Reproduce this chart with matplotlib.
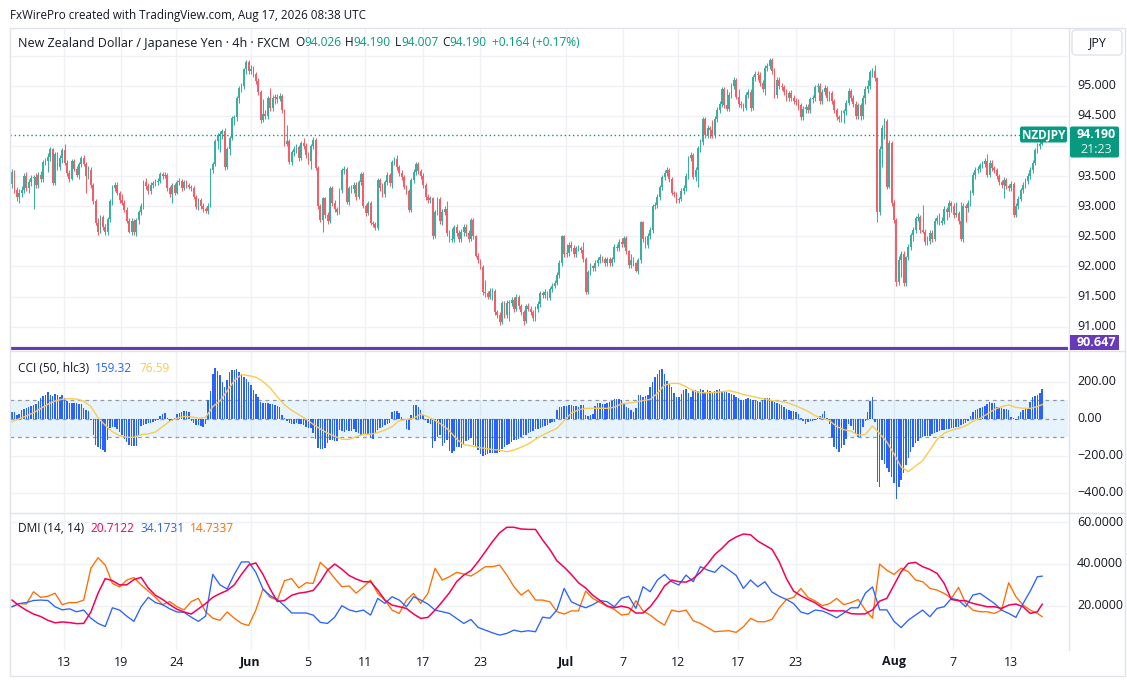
import numpy as np
import matplotlib
matplotlib.use("Agg")
import matplotlib.pyplot as plt
from matplotlib.patches import Rectangle, FancyBboxPatch

W, H = 1127, 681
plt.rcParams['font.family'] = ['Open Sans', 'DejaVu Sans']

# ---------------- data (4h bars, prices in 1/100 JPY) ----------------
OPEN_FIRST_X100 = 9337
CLOSE_X100 = [
    9357,9327,9315,9322,9327,9350,9330,9340,9347,9348,9335,9352,
    9345,9373,9375,9382,9395,9338,9387,9365,9380,9393,9372,9355,
    9345,9375,9362,9352,9370,9380,9370,9350,9360,9335,9308,9272,
    9258,9282,9265,9257,9278,9308,9330,9335,9322,9310,9305,9293,
    9275,9257,9275,9257,9277,9290,9300,9340,9333,9325,9335,9338,
    9340,9342,9353,9350,9352,9330,9320,9335,9322,9340,9342,9330,
    9340,9335,9332,9330,9315,9298,9310,9300,9295,9292,9300,9360,
    9370,9408,9418,9420,9425,9365,9395,9413,9446,9448,9480,9496,
    9500,9527,9540,9525,9527,9520,9508,9490,9443,9453,9450,9480,
    9463,9480,9482,9478,9483,9460,9403,9408,9373,9390,9395,9398,
    9380,9405,9400,9385,9375,9400,9410,9363,9300,9277,9313,9285,
    9275,9330,9305,9295,9290,9327,9360,9362,9307,9330,9328,9335,
    9315,9340,9353,9300,9288,9305,9272,9270,9263,9343,9330,9320,
    9340,9352,9338,9373,9378,9365,9355,9348,9332,9325,9293,9343,
    9357,9370,9358,9350,9335,9315,9310,9313,9250,9290,9312,9275,
    9290,9295,9255,9244,9245,9265,9255,9245,9258,9265,9255,9245,
    9277,9250,9218,9210,9199,9157,9156,9150,9160,9160,9125,9120,
    9108,9140,9120,9140,9140,9145,9130,9150,9135,9125,9110,9135,
    9130,9125,9115,9130,9138,9156,9152,9157,9148,9162,9168,9173,
    9185,9205,9250,9220,9222,9235,9230,9220,9230,9230,9228,9213,
    9157,9190,9200,9198,9205,9210,9215,9212,9205,9212,9205,9212,
    9233,9230,9240,9238,9247,9225,9202,9210,9205,9193,9210,9273,
    9245,9235,9250,9260,9300,9302,9315,9332,9348,9355,9360,9345,
    9322,9320,9310,9312,9325,9330,9350,9380,9385,9348,9360,9397,
    9407,9445,9418,9430,9427,9418,9445,9460,9470,9495,9468,9462,
    9485,9500,9510,9482,9470,9468,9463,9485,9490,9463,9514,9520,
    9518,9505,9495,9530,9533,9542,9525,9485,9510,9500,9498,9490,
    9480,9488,9480,9475,9473,9468,9448,9462,9465,9460,9478,9480,
    9498,9500,9475,9490,9497,9480,9488,9475,9460,9448,9445,9455,
    9458,9472,9492,9480,9470,9450,9468,9450,9480,9495,9500,9522,
    9525,9512,9290,9395,9430,9442,9332,9405,9305,9277,9175,9210,
    9220,9172,9215,9233,9252,9260,9280,9282,9260,9258,9240,9242,
    9255,9245,9275,9280,9272,9275,9295,9290,9305,9300,9285,9288,
    9275,9245,9300,9297,9305,9322,9352,9360,9362,9368,9370,9375,
    9352,9372,9363,9360,9350,9340,9335,9343,9333,9330,9337,9285,
    9300,9312,9327,9335,9342,9350,9360,9372,9393,9400,9403,9419,
]
HIGH_X100 = [
    9362,9360,9332,9328,9333,9355,9356,9345,9352,9352,9355,9356,
    9358,9377,9380,9388,9398,9397,9390,9390,9385,9397,9403,9376,
    9360,9378,9378,9366,9373,9383,9385,9373,9366,9365,9338,9312,
    9280,9285,9286,9270,9282,9312,9335,9340,9340,9326,9320,9310,
    9298,9280,9280,9278,9280,9294,9305,9343,9346,9338,9340,9342,
    9345,9347,9357,9356,9356,9355,9333,9338,9338,9344,9346,9345,
    9344,9343,9338,9335,9333,9318,9314,9313,9305,9298,9305,9363,
    9374,9412,9422,9425,9428,9430,9398,9416,9450,9452,9483,9500,
    9505,9530,9543,9542,9535,9532,9523,9512,9493,9478,9460,9483,
    9497,9484,9486,9486,9488,9486,9462,9435,9411,9394,9400,9403,
    9402,9408,9414,9405,9390,9404,9415,9413,9366,9304,9316,9316,
    9290,9333,9333,9310,9298,9330,9364,9367,9365,9333,9336,9340,
    9340,9344,9357,9356,9303,9308,9308,9276,9273,9346,9346,9338,
    9344,9356,9355,9376,9382,9385,9368,9360,9352,9336,9328,9346,
    9361,9373,9374,9362,9355,9338,9320,9317,9316,9294,9315,9316,
    9295,9300,9308,9260,9263,9268,9270,9260,9262,9270,9270,9260,
    9280,9280,9253,9222,9213,9202,9178,9160,9164,9165,9163,9128,
    9124,9143,9143,9144,9145,9150,9150,9155,9153,9138,9128,9138,
    9140,9135,9128,9134,9142,9160,9160,9162,9160,9166,9172,9178,
    9190,9210,9253,9252,9238,9240,9242,9235,9234,9236,9234,9240,
    9216,9194,9205,9203,9210,9215,9220,9218,9216,9216,9216,9216,
    9237,9238,9245,9247,9250,9250,9228,9220,9215,9208,9214,9276,
    9276,9250,9255,9265,9304,9307,9320,9336,9352,9360,9365,9364,
    9348,9326,9324,9316,9330,9335,9355,9384,9390,9388,9365,9400,
    9412,9448,9448,9435,9433,9443,9449,9464,9475,9498,9498,9494,
    9490,9505,9515,9513,9495,9475,9472,9490,9495,9495,9517,9525,
    9525,9522,9510,9534,9538,9546,9546,9530,9515,9514,9505,9502,
    9494,9492,9493,9485,9480,9478,9472,9466,9470,9470,9482,9485,
    9502,9505,9504,9495,9502,9500,9492,9492,9478,9463,9452,9460,
    9462,9476,9496,9495,9485,9474,9472,9472,9485,9500,9510,9526,
    9530,9535,9515,9400,9435,9446,9445,9410,9408,9310,9280,9218,
    9225,9225,9218,9237,9256,9265,9284,9288,9285,9302,9262,9250,
    9260,9260,9280,9285,9288,9282,9300,9298,9310,9308,9305,9307,
    9292,9307,9305,9303,9310,9327,9356,9365,9367,9372,9375,9380,
    9387,9377,9376,9367,9364,9354,9344,9348,9347,9337,9342,9340,
    9305,9317,9331,9340,9347,9355,9365,9377,9397,9405,9408,9419,
]
LOW_X100 = [
    9330,9322,9308,9305,9315,9322,9325,9322,9333,9295,9330,9330,
    9340,9340,9368,9357,9375,9335,9335,9360,9360,9372,9368,9350,
    9340,9343,9358,9348,9345,9365,9366,9322,9345,9330,9303,9268,
    9253,9255,9260,9253,9252,9273,9302,9325,9318,9305,9302,9290,
    9272,9255,9252,9253,9250,9270,9285,9295,9328,9320,9320,9330,
    9334,9336,9338,9345,9346,9326,9315,9305,9318,9320,9335,9326,
    9327,9331,9328,9326,9312,9295,9293,9296,9290,9288,9287,9298,
    9355,9366,9395,9390,9412,9360,9362,9385,9410,9435,9442,9472,
    9490,9495,9520,9520,9520,9515,9503,9485,9438,9440,9445,9445,
    9458,9458,9470,9472,9474,9455,9400,9400,9370,9368,9384,9388,
    9375,9376,9395,9380,9370,9362,9395,9360,9296,9273,9257,9280,
    9270,9272,9300,9290,9285,9287,9322,9354,9303,9302,9322,9322,
    9310,9312,9335,9297,9283,9285,9268,9265,9260,9260,9325,9315,
    9316,9335,9333,9330,9368,9360,9350,9343,9328,9320,9290,9290,
    9338,9352,9353,9345,9330,9310,9305,9305,9246,9248,9285,9270,
    9268,9285,9250,9240,9240,9240,9250,9240,9241,9250,9250,9240,
    9242,9245,9215,9205,9195,9153,9150,9146,9146,9144,9120,9115,
    9103,9105,9115,9115,9110,9135,9125,9126,9130,9120,9102,9106,
    9126,9120,9110,9110,9125,9133,9147,9148,9144,9145,9158,9164,
    9170,9180,9200,9215,9216,9218,9225,9215,9216,9225,9222,9208,
    9155,9155,9185,9192,9193,9200,9205,9207,9200,9200,9200,9200,
    9207,9225,9225,9233,9232,9220,9198,9198,9200,9190,9188,9205,
    9240,9230,9230,9245,9255,9295,9297,9310,9327,9343,9350,9340,
    9318,9315,9305,9305,9308,9320,9325,9345,9375,9345,9342,9332,
    9390,9402,9413,9414,9413,9414,9414,9440,9455,9465,9463,9458,
    9458,9480,9495,9478,9465,9463,9458,9460,9480,9458,9460,9508,
    9510,9500,9490,9485,9525,9528,9520,9480,9480,9495,9493,9485,
    9475,9475,9475,9470,9468,9460,9443,9443,9455,9455,9455,9472,
    9475,9490,9470,9470,9485,9475,9475,9470,9455,9443,9440,9440,
    9438,9452,9468,9475,9465,9445,9445,9443,9445,9470,9488,9495,
    9515,9508,9273,9285,9365,9412,9328,9330,9300,9272,9167,9170,
    9182,9167,9168,9210,9228,9243,9255,9275,9255,9255,9235,9236,
    9238,9240,9242,9270,9268,9268,9270,9277,9282,9290,9280,9282,
    9270,9243,9240,9273,9290,9300,9318,9345,9355,9356,9363,9365,
    9348,9348,9358,9355,9345,9335,9330,9313,9328,9325,9326,9282,
    9282,9296,9308,9322,9330,9337,9345,9355,9368,9388,9395,9401,
]
# CCI (50, hlc3), one value per bar
CCI = [
    38,35,22,25,45,50,58,62,66,72,80,95,
    112,122,128,145,130,122,133,128,118,125,110,98,
    85,86,84,83,80,78,60,48,40,-8,-90,-140,
    -150,-165,-170,-178,-115,-50,-42,-45,-58,-72,-90,-110,
    -128,-142,-147,-145,-147,-90,-40,-32,-26,-23,-21,-17,
    -14,-5,15,28,32,5,-10,-14,5,25,32,38,
    40,41,38,-15,-25,-32,-36,-40,-47,-30,100,150,
    240,271,255,235,200,170,210,250,260,262,266,250,
    235,225,212,195,180,155,135,115,92,85,83,86,
    80,78,74,70,62,20,5,-10,-25,-28,-27,-25,
    -28,-30,-34,-42,-48,-52,-75,-110,-160,-165,-163,-160,
    -130,-115,-112,-122,-120,-62,-66,-70,-62,-64,-65,-57,
    -70,-78,-88,-84,-86,-88,-105,-110,-78,-60,-52,-46,
    -36,-30,-24,35,40,43,30,8,-8,-55,-60,20,
    72,75,62,45,20,-7,-22,-30,-160,-120,-100,-88,
    -148,-130,-115,-175,-185,-175,-150,-155,-158,-135,-122,-112,
    -106,-140,-155,-168,-192,-200,-197,-190,-183,-187,-185,-182,
    -178,-165,-152,-142,-135,-126,-115,-112,-108,-97,-90,-86,
    -79,-74,-68,-57,-54,-50,-47,-38,-32,-25,-20,-16,
    47,62,65,67,68,72,74,70,67,65,72,74,
    20,14,18,25,70,83,82,79,80,83,88,95,
    104,108,105,100,80,65,56,45,38,56,130,128,
    118,122,127,170,195,225,240,260,269,240,205,185,
    172,140,118,118,135,155,158,140,118,152,154,150,
    158,152,145,153,150,145,150,155,158,150,145,145,
    138,133,127,118,112,100,100,105,109,106,103,100,
    95,92,100,110,113,109,100,92,83,78,72,65,
    52,46,43,40,36,27,5,-10,-28,-20,-15,-12,
    -5,2,15,28,43,5,-30,-105,-150,-165,-178,-160,
    -140,-110,-30,-40,-62,-80,-97,-97,-45,-10,38,95,
    115,-20,-340,-370,-223,-245,-265,-285,-315,-345,-434,-370,
    -330,-290,-250,-210,-180,-150,-130,-118,-105,-98,-95,-95,
    -95,-85,-78,-70,-66,-62,-60,-57,-54,-52,-48,-47,
    -46,-36,-28,-24,-10,15,38,46,52,56,62,70,
    79,88,86,83,62,56,56,52,50,47,10,2,
    -7,15,38,47,52,60,90,118,122,128,140,159.32,
]
# CCI moving average, read every 3rd bar, last value at the final bar
CCI_MA = [
    -16,0,15,32,55,78,95,105,108,106,95,65,
    5,-35,-70,-92,-100,-100,-86,-82,-72,-42,-14,3,
    12,10,3,7,65,95,150,205,238,232,224,200,
    166,118,75,45,22,-2,-30,-55,-78,-95,-110,-112,
    -97,-84,-84,-75,-61,-43,-11,-4,2,25,11,-10,
    -33,-65,-110,-140,-146,-154,-160,-166,-169,-178,-169,-154,
    -136,-111,-88,-70,-52,-10,30,48,56,56,56,56,
    62,80,84,90,98,104,136,181,190,190,172,151,
    140,140,141,145,151,142,130,122,113,106,97,94,
    88,74,58,40,16,3,-10,-42,-59,-67,-88,-85,
    -39,-80,-125,-190,-260,-285,-255,-226,-170,-112,-78,-62,
    -52,-38,-15,2,25,50,65,74,61,56,56,65,
    76.59,
]
# DMI (14, 14), read every 3rd bar, last value at the final bar
ADX = [
    22.7,20,17.8,16,14.8,13,11.8,12.2,11.9,11.4,11.5,17,
    26,33,32,30,30,32.5,33.6,28.5,25,23,20.5,18.3,
    17,16,18.5,21,24,25.8,27.3,30,35,39.5,40.5,35,
    28,22,22.5,25,26,26.5,27.3,31.5,37,40,37.5,34.5,
    32.8,31.5,31.5,27.5,22.7,20.3,19.5,18.7,16,13.9,14.4,17.9,
    21.9,26.2,31.5,34.7,36.8,41.1,45.9,50.7,55,57.6,57.6,56.8,
    56.6,56.6,51.5,47,41.5,38.5,35,31,28.5,25,22.5,19.8,
    19,19.8,19,16.5,16.5,19.5,24,29.5,32.3,31.5,31.3,33,
    36,40,44.5,47.5,51,53,54.4,54,51,49,47,41,
    33,27,24.8,23,21.4,19,17.6,17.5,17.5,16.2,16,16.1,
    18,22.2,23.5,29.9,36.3,40.3,40.8,38.7,37.4,35.5,30.7,23,
    22.4,22.4,21.1,20.3,19.5,19.5,18.7,20.3,20.8,19.5,16.3,17.1,
    20.7122,
]
PLUS_DI = [
    19.5,21,21.5,22.5,22.7,22.5,19.5,18,18.5,17.1,17.9,14,
    11.5,10,19,17.9,15,12.5,19.5,24,21.5,20.5,18.5,17,
    16.8,14.5,12.5,15,35,30,28,35,41,41,36,28,
    24.8,23,20,16.5,16.5,16.5,15.5,12,11.5,14.5,20,18,
    17.1,17.9,15.5,23.5,21.1,24.3,22.7,19.5,24.3,22.7,20.8,17.9,
    17.1,16.3,13.9,11.5,13.4,9.6,8.3,7,5.9,6.7,8.3,7.5,
    8,7.5,14.5,14,18,28.3,21.9,20.3,19,20.5,22.5,21.9,
    19.5,23.5,24.5,18.7,29.1,26.7,32.3,35,31.5,29.9,34.7,31.5,
    38.7,37.1,36,39.5,37,34.5,28.3,32.3,29.1,31.5,26.5,24.5,
    23,21,17,16,17.9,17.5,16,14.2,16.5,19,19,26,
    29,18,18,12.5,9.5,13.1,15.5,17.9,14.7,18.7,19.5,23.5,
    22.7,19.5,25.1,25.9,23.5,21.1,17.9,16.3,14.4,21,27,33.9,
    34.1731,
]
MINUS_DI = [
    19.5,21,20.8,26.7,24,24.5,26,20.5,21.5,21.5,22.7,38,
    43,39.5,30.7,29,32.3,33.5,30,27,24,20.5,22,19.5,
    18,22,23.5,17.1,14,13,17,14,11.5,10.5,17.9,28,
    24,22.7,32,33,28.5,31,30.7,40.8,37.5,33.1,29.1,29.5,
    26,29,32.3,25.9,22.7,17.9,16.3,22.7,25.9,21.1,25.9,37.9,
    32.3,33.9,36,35.2,34.2,36.3,38.7,38.7,39.5,34.7,29.1,25.1,
    27.5,22.7,22.7,21.9,17.1,16,17.5,17.5,27,23.5,21.5,19.8,
    18.2,15.5,16,22.4,17.5,15.5,12.8,10.7,17.9,17.1,17.9,12.8,
    11.5,9.5,7.5,7.8,8,7.2,9.9,13.9,12.3,12.3,13.5,19,
    23,24,28.3,24,22.3,20,21,23.5,20.5,21.5,23,18,
    14,40,37,35,38,36.3,32.3,31.5,28.3,27.5,25.9,23.5,
    28.8,21.1,17.9,17.1,17.1,16.3,17.9,31,24.3,20.3,17.9,16.3,
    14.7337,
]
PURPLE_LEVEL = 90.647
LAST_PRICE = 94.190
# x-axis labels: trading-day index counted from Wed 13 May, Sunday-open flag
TICK_LABELS = ["13", "19", "24", "Jun", "5", "11", "17", "23", "Jul", "7", "12", "17", "23", "Aug", "7", "13"]
TICK_DAYS = [0, 4, 8, 13, 17, 21, 25, 29, 35, 39, 43, 47, 51, 58, 62, 66]
TICK_SUNDAY = [0, 0, 1, 0, 0, 0, 0, 0, 0, 0, 1, 0, 0, 1, 0, 0]
PRICE_TICKS = [91.0, 91.5, 92.0, 92.5, 93.0, 93.5, 94.0, 94.5, 95.0]
PRICE_GRID = PRICE_TICKS + [95.5]
CCI_TICKS = [200, 0, -200, -400]
DMI_TICKS = [20, 40, 60]

# ---------------- styling ----------------
UP, DOWN = '#3aae9f', '#f25f69'
TEAL = '#089981'
TXT = '#131722'
GRID = '#f0f1f4'
SEP = '#e0e3eb'
BLUE = '#2962ff'
YELLOW = '#f7cc50'
PINK = '#f50057'
ORANGE = '#ff6d00'
PURPLE = '#673ab7'
FS = 9
FS_LEG = 8.6

BARS_PER_DAY = 6
MAY13_BAR = 21.8

fig = plt.figure(figsize=(W / 100, H / 100), dpi=100)
fig.patch.set_facecolor('white')


def frac_rect(l, t, r, b):
    return [l / W, 1 - b / H, (r - l) / W, (b - t) / H]


PL, PR = 10, 1068
ax_p = fig.add_axes(frac_rect(PL, 28, PR, 350))
ax_c = fig.add_axes(frac_rect(PL, 351, PR, 512))
ax_d = fig.add_axes(frac_rect(PL, 513, PR, 650))
ov = fig.add_axes([0, 0, 1, 1], zorder=10)
ov.set_xlim(0, W)
ov.set_ylim(H, 0)
ov.set_axis_off()
ov.patch.set_alpha(0)

n = len(CLOSE_X100)
idx = np.arange(n)
XMIN, XMAX = -0.84, 441.8
for ax in (ax_p, ax_c, ax_d):
    ax.set_xlim(XMIN, XMAX)
    ax.set_axis_off()

ax_p.set_ylim(90.613, 95.958)
ax_c.set_ylim(-502.4, 364.6)
ax_d.set_ylim(-1.25, 64.46)

tick_pos = [MAY13_BAR + BARS_PER_DAY * d - s for d, s in zip(TICK_DAYS, TICK_SUNDAY)]

# grid
for ax in (ax_p, ax_c, ax_d):
    for tp in tick_pos:
        ax.axvline(tp, color=GRID, lw=1, zorder=0)
for v in PRICE_GRID:
    ax_p.axhline(v, color=GRID, lw=1, zorder=0)
for v in [200, -200, -400]:
    ax_c.axhline(v, color=GRID, lw=1, zorder=0)
for v in DMI_TICKS:
    ax_d.axhline(v, color=GRID, lw=1, zorder=0)

# candles
c = np.array(CLOSE_X100) / 100.0
o = np.concatenate([[OPEN_FIRST_X100 / 100.0], c[:-1]])
hi = np.array(HIGH_X100) / 100.0
lo = np.array(LOW_X100) / 100.0
col = np.where(c >= o, UP, DOWN)
ax_p.vlines(idx, lo, hi, colors=col, lw=0.75, zorder=2)
body = np.maximum(np.abs(c - o), 0.015)
ax_p.bar(idx, body, bottom=np.minimum(o, c), width=0.74, color=col, linewidth=0, zorder=3)
ax_p.axhline(LAST_PRICE, xmax=(1020 - PL) / (PR - PL), color=TEAL, lw=1, ls=(0, (1, 2)), zorder=4)
ax_p.axhline(PURPLE_LEVEL, color=PURPLE, lw=2.3, zorder=5)

# CCI
ax_c.axhspan(-100, 100, color='#2196f3', alpha=0.1, lw=0, zorder=1)
for v in (100, 0, -100):
    ax_c.axhline(v, color='#9598a1', lw=0.9, ls=(0, (3, 3)), zorder=2)
ax_c.bar(idx, CCI, width=0.62, color=BLUE, linewidth=0, zorder=3)
ma_x = np.append(np.arange(0, n - 2, 3), n - 1)
ax_c.plot(ma_x, CCI_MA, color=YELLOW, lw=1.0, zorder=4)

# DMI
dmi_x = np.append(np.arange(0, n - 2, 3), n - 1)
ax_d.plot(dmi_x, MINUS_DI, color=ORANGE, lw=0.95, zorder=3)
ax_d.plot(dmi_x, PLUS_DI, color=BLUE, lw=0.95, zorder=3)
ax_d.plot(dmi_x, ADX, color=PINK, lw=1.1, zorder=4)


def ypix(ax, v):
    return H - ax.transData.transform((0, v))[1]


def xpix(ax, v):
    return ax.transData.transform((v, 0))[0]


# separators / frame
ov.add_patch(Rectangle((9.5, 27.5), 1115, 648, fill=False, ec=SEP, lw=1))
ov.plot([9.5, 1124.5], [350.5, 350.5], color=SEP, lw=1)
ov.plot([9.5, 1124.5], [512.5, 512.5], color=SEP, lw=1)
ov.plot([PR + 0.5, PR + 0.5], [27.5, 650], color=SEP, lw=1)

yl = ypix(ax_p, LAST_PRICE)

# y labels (a label hidden by the last-price box is not drawn)
for v in PRICE_TICKS:
    yv = ypix(ax_p, v)
    if yl - 16 < yv < yl + 30:
        continue
    ov.text(1077, yv, f"{v:.3f}", color=TXT, fontsize=FS, va='center', ha='left', zorder=3)
for v in CCI_TICKS:
    ov.text(1077, ypix(ax_c, v), f"{v:.2f}".replace('-', '\u2212'), color=TXT, fontsize=FS,
            va='center', ha='left', zorder=3)
for v in DMI_TICKS:
    ov.text(1077, ypix(ax_d, v), f"{v:.4f}", color=TXT, fontsize=FS, va='center', ha='left', zorder=3)
# x labels
for tp, lab in zip(tick_pos, TICK_LABELS):
    bold = lab.isalpha()
    ov.text(xpix(ax_d, tp), 662, lab, color=TXT, fontsize=FS, ha='center', va='center',
            fontweight='bold' if bold else 'normal')

# price labels on the scale
ov.add_patch(FancyBboxPatch((1020, yl - 8), 47, 16, boxstyle='round,pad=0,rounding_size=2',
                            fc=TEAL, ec='none', zorder=5))
ov.text(1043.5, yl, 'NZDJPY', color='white', fontsize=8.5, fontweight='bold', ha='center', va='center', zorder=6)
ov.add_patch(FancyBboxPatch((1070, yl - 8), 49, 31, boxstyle='round,pad=0,rounding_size=2',
                            fc=TEAL, ec='none', zorder=5))
ov.text(1077, yl, f"{LAST_PRICE:.3f}", color='white', fontsize=FS, fontweight='bold', ha='left', va='center', zorder=6)
ov.text(1080, yl + 15, '21:23', color='#d9f2ec', fontsize=FS, ha='left', va='center', zorder=6)
ov.add_patch(Rectangle((1070, 335), 49, 15, fc=PURPLE, ec='none', zorder=5))
ov.text(1077, 342.5, f"{PURPLE_LEVEL:.3f}", color='white', fontsize=FS, fontweight='bold',
        ha='left', va='center', zorder=6)
ov.add_patch(FancyBboxPatch((1072, 30), 50, 25, boxstyle='round,pad=0,rounding_size=4',
                            fc='white', ec=SEP, lw=1, zorder=5))
ov.text(1097, 43, 'JPY', color=TXT, fontsize=FS, ha='center', va='center', zorder=6)

# header / legends
fig.canvas.draw()
rend = fig.canvas.get_renderer()


def chain(x, y, parts):
    for s, color, gap, size in parts:
        t = ov.text(x, y, s, color=color, fontsize=size, ha='left', va='center')
        bb = t.get_window_extent(rend)
        x += bb.width + gap


ov.text(10, 15, 'FxWirePro created with TradingView.com, Aug 17, 2026 08:38 UTC', color=TXT,
        fontsize=8.4, ha='left', va='center')
chain(18, 43, [
    ('New Zealand Dollar / Japanese Yen \u00b7 4h \u00b7 FXCM', TXT, 5, FS),
    ('O', TXT, 0, FS_LEG), ('94.026', TEAL, 4, FS_LEG),
    ('H', TXT, 0, FS_LEG), ('94.190', TEAL, 4, FS_LEG),
    ('L', TXT, 0, FS_LEG), ('94.007', TEAL, 4, FS_LEG),
    ('C', TXT, 0, FS_LEG), ('94.190', TEAL, 5, FS_LEG),
    ('+0.164 (+0.17%)', TEAL, 0, FS_LEG),
])
chain(18, 368, [
    ('CCI (50, hlc3)', TXT, 6, FS_LEG), ('159.32', BLUE, 7, FS_LEG), ('76.59', YELLOW, 0, FS_LEG),
])
chain(18, 528, [
    ('DMI (14, 14)', TXT, 6, FS_LEG), ('20.7122', PINK, 6, FS_LEG),
    ('34.1731', BLUE, 6, FS_LEG), ('14.7337', ORANGE, 0, FS_LEG),
])

fig.savefig('out.png', dpi=100, facecolor='white')
